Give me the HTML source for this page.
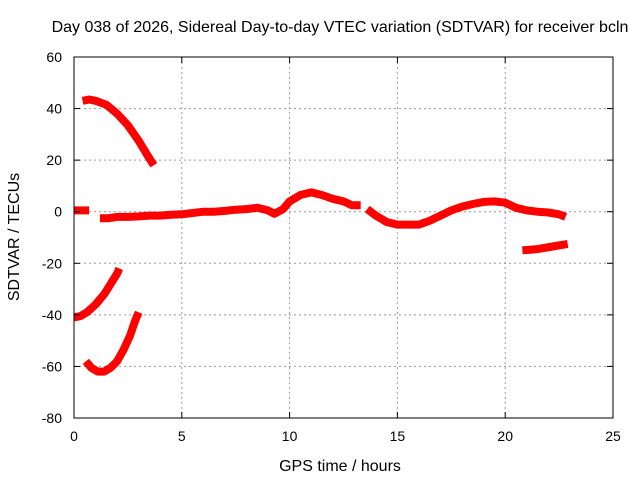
<!DOCTYPE html>
<html><head><meta charset="utf-8"><style>
body{margin:0;background:#fff}
svg text{font-family:"Liberation Sans",sans-serif;font-size:14px;fill:#000}
svg text.t{font-size:16px}
</style></head><body>
<svg width="640" height="480" id="c">
<rect width="640" height="480" fill="#fff"/>
<text class="t" x="340" y="32" text-anchor="middle">Day 038 of 2026, Sidereal Day-to-day VTEC variation (SDTVAR) for receiver bcln</text>
<text class="t" x="340" y="471" text-anchor="middle">GPS time / hours</text>
<text class="t" transform="translate(19,237) rotate(-90)" text-anchor="middle">SDTVAR / TECUs</text>
<g id="grid"></g><g id="marks"></g><g id="axes"></g>
</svg>
<script>
const xTicks=[0,5,10,15,20,25];
const yTicks=[60,40,20,0,-20,-40,-60,-80];
const segMainT=[0,0.3,0.7,1.2,1.6,2,2.5,3,3.5,4,4.5,5,5.5,6,6.5,7,7.5,8,8.5,9,9.3,9.7,10,10.5,11,11.5,12,12.5,12.9,13.3,13.6,14,14.5,15,15.5,16,16.5,17,17.5,18,18.5,19,19.5,20,20.5,21,21.5,22,22.5,22.8];
const segMainV=[0.5,0.5,0.5,-2.5,-2.5,-2,-2,-1.8,-1.5,-1.5,-1.2,-1,-0.5,0,0,0.3,0.8,1,1.5,0.5,-0.8,1,4,6.5,7.5,6.5,5,4,2.5,2.5,1,-1.5,-4,-5,-5,-5,-3.5,-1.5,0.5,2,3,3.8,4,3.5,1.5,0.5,0,-0.3,-1,-2];
const segAT=[0.4,0.7,1,1.5,2,2.5,3,3.4,3.7];
const segAV=[43,43.5,43,41.5,38,33.5,27.5,22,18];
const segBT=[0,0.3,0.6,1,1.4,1.7,2,2.1];
const segBV=[-41,-40.5,-39,-36,-32,-28,-24,-22];
const segCT=[0.55,0.8,1.1,1.4,1.7,2,2.3,2.6,2.85,3];
const segCV=[-58,-60.5,-62,-62,-60.5,-58,-53.5,-48,-42,-39];
const segDT=[20.8,21.5,22.2,22.9];
const segDV=[-15,-14.5,-13.5,-12.5];
const X0=74,X1=613,Y0=57,Y1=418;
const sx=v=>X0+(v-0)/25*(X1-X0);
const sy=v=>Y0+(60-v)/140*(Y1-Y0);
const NS="http://www.w3.org/2000/svg";
function mk(t,a,p){const e=document.createElementNS(NS,t);for(const k in a)e.setAttribute(k,a[k]);p.appendChild(e);return e;}
const grid=document.getElementById('grid'),axes=document.getElementById('axes'),marks=document.getElementById('marks');
xTicks.forEach(v=>{
 if(v>0&&v<25){const g=mk('line',{x1:sx(v),x2:sx(v),y1:Y0,y2:Y1,stroke:'#999','stroke-dasharray':'2,3'},grid);
 
 }
 const t=mk('text',{x:sx(v),y:Y1+23,'text-anchor':'middle'},axes);t.textContent=v;
 
 
 mk('line',{x1:sx(v),x2:sx(v),y1:Y1,y2:Y1-6,stroke:'#000'},axes);
 mk('line',{x1:sx(v),x2:sx(v),y1:Y0,y2:Y0+6,stroke:'#000'},axes);
});
yTicks.forEach(v=>{
 if(v<60&&v>-80){const g=mk('line',{x1:X0,x2:X1,y1:sy(v),y2:sy(v),stroke:'#999','stroke-dasharray':'2,3'},grid);
 
 }
 const t=mk('text',{x:X0-12,y:sy(v)+5,'text-anchor':'end'},axes);t.textContent=v;
 
 
 mk('line',{x1:X0,x2:X0+6,y1:sy(v),y2:sy(v),stroke:'#000'},axes);
 mk('line',{x1:X1,x2:X1-6,y1:sy(v),y2:sy(v),stroke:'#000'},axes);
});
const fr=mk('rect',{x:X0,y:Y0,width:X1-X0,height:Y1-Y0,fill:'none',stroke:'#000'},axes);


function series(T,V,name,breaks){
 let pts=[];const segs=[];
 T.forEach((t,i)=>{if(breaks&&breaks.includes(i)&&pts.length){segs.push(pts);pts=[];}pts.push(sx(t).toFixed(1)+','+sy(V[i]).toFixed(1));});
 segs.push(pts);
 segs.forEach(p=>{const l=mk('polyline',{points:p.join(' '),fill:'none',stroke:'#f00','stroke-width':8,'stroke-linejoin':'round'},marks);
 
 });
}
series(segMainT,segMainV,'series-main',[3,30]);
series(segAT,segAV,'series-arc-upper');
series(segBT,segBV,'series-arc-lower-1');
series(segCT,segCV,'series-arc-lower-2');
series(segDT,segDV,'series-late-segment');
</script>
</body></html>
